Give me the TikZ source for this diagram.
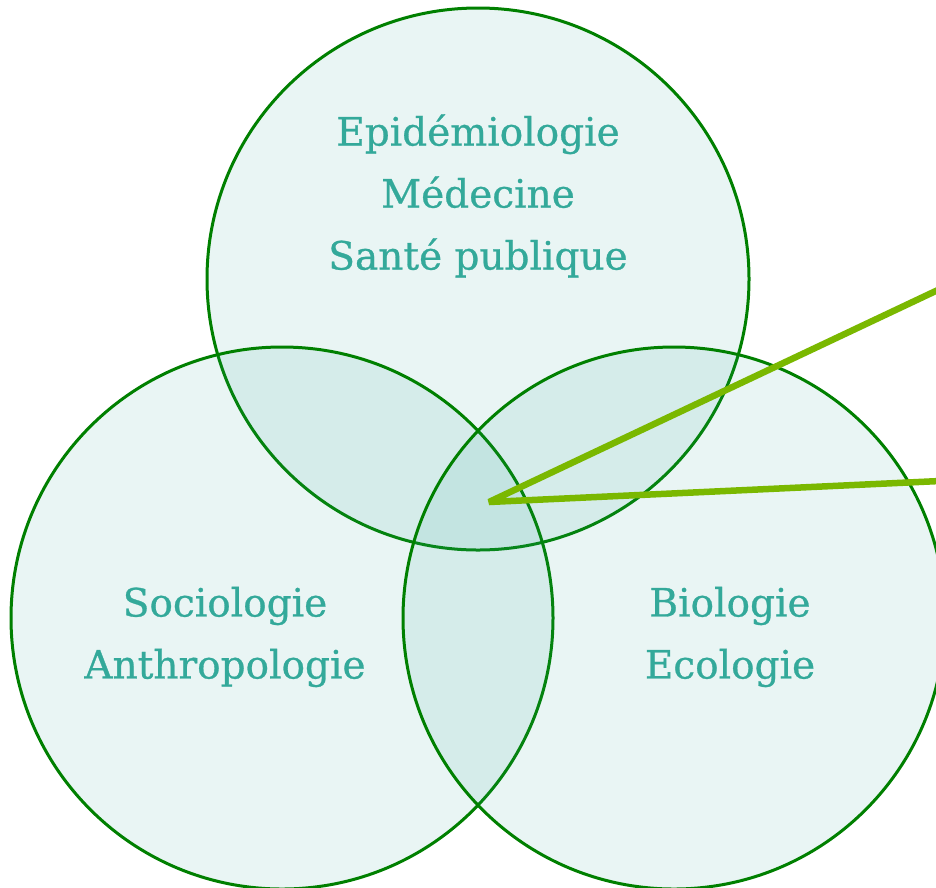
\documentclass[tikz,border=0pt]{standalone}
\usepackage{fontspec}
\setmainfont{DejaVu Serif}
\newfontfamily\labelfont{DejaVu Serif}[FakeBold=0.7]
\definecolor{ringgreen}{HTML}{008000}
\definecolor{tealfill}{HTML}{2AA198}
\definecolor{labelteal}{HTML}{33A99A}
\definecolor{pointer}{HTML}{7AB800}
\tikzset{
  setcircle/.style={circle, draw=ringgreen, line width=3pt, fill=tealfill, fill opacity=0.1, minimum size=542pt, inner sep=0pt},
  setlabel/.style={text=labelteal, font=\labelfont\fontsize{39}{62}\selectfont, align=center},
  pointerline/.style={draw=pointer, line width=6.5pt, line join=bevel}
}
\begin{document}
\begin{tikzpicture}[x=1pt,y=-1pt]
\useasboundingbox (0,0) rectangle (936,887);
\clip (0,0) rectangle (936,887);
\fill[white] (0,0) rectangle (936,887);
\node[setcircle] (top) at (478,279) {};
\node[setcircle] (left) at (282,618) {};
\node[setcircle] (right) at (674,618) {};
\node[setlabel] (toplabel) at (478,196) {Epidémiologie\\Médecine\\Santé publique};
\node[setlabel] (leftlabel) at (225,637) {Sociologie\\Anthropologie};
\node[setlabel] (rightlabel) at (730,637) {Biologie\\Ecologie};
\coordinate (hub) at (489,502);
\coordinate (endA) at (940,289);
\coordinate (endB) at (940,481);
\draw[pointerline] (endA) -- (hub) -- (endB);
\end{tikzpicture}
\end{document}
